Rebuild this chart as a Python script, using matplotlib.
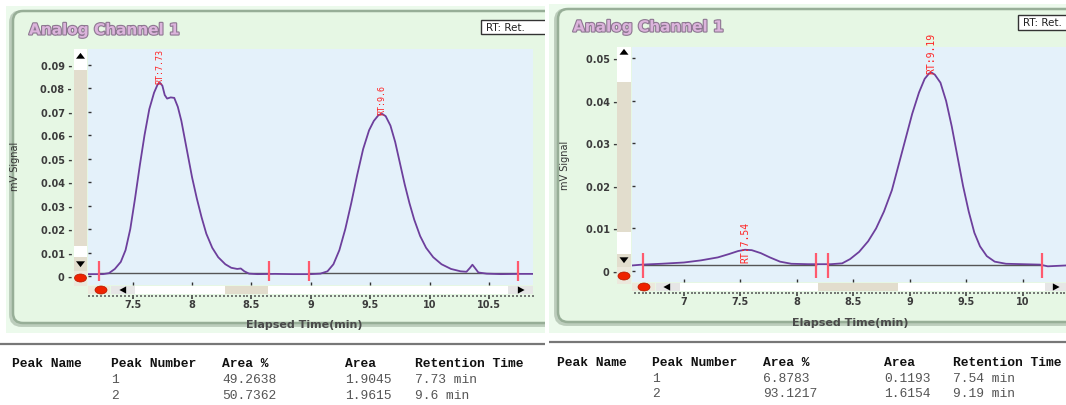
import matplotlib
matplotlib.use("Agg")
import matplotlib.pyplot as plt
import matplotlib.patheffects as pe
from matplotlib.patches import Rectangle, FancyBboxPatch, Ellipse, Polygon
from matplotlib.ticker import FixedLocator, MultipleLocator

W, H = 1066, 406

# ---------------- Run 1 chromatogram (time in min, signal in mV) ----------------
run1_time = [7.12, 7.25, 7.30, 7.35, 7.40, 7.44, 7.48, 7.52, 7.56, 7.60, 7.64, 7.68,
             7.71, 7.73, 7.75, 7.77, 7.79, 7.82, 7.85, 7.88, 7.91, 7.94, 7.97, 8.00,
             8.04, 8.08, 8.12, 8.17, 8.22, 8.28, 8.33, 8.38, 8.41, 8.44, 8.48, 8.55,
             8.70, 8.85, 9.00, 9.08, 9.14, 9.19, 9.24, 9.29, 9.34, 9.39, 9.44, 9.49,
             9.53, 9.57, 9.60, 9.63, 9.67, 9.71, 9.75, 9.79, 9.83, 9.87, 9.92, 9.97,
             10.03, 10.10, 10.18, 10.26, 10.31, 10.34, 10.36, 10.38, 10.41, 10.48,
             10.60, 10.75, 10.87]
run1_signal = [0.0008, 0.0008, 0.0012, 0.0030, 0.0060, 0.0110, 0.0200, 0.0330, 0.0470,
               0.0600, 0.0710, 0.0780, 0.0815, 0.0822, 0.0810, 0.0770, 0.0755, 0.0760,
               0.0758, 0.0720, 0.0660, 0.0580, 0.0500, 0.0420, 0.0330, 0.0250, 0.0180,
               0.0120, 0.0080, 0.0050, 0.0035, 0.0030, 0.0032, 0.0020, 0.0010, 0.0008,
               0.0009, 0.0008, 0.0008, 0.0010, 0.0020, 0.0050, 0.0110, 0.0200, 0.0310,
               0.0430, 0.0540, 0.0620, 0.0660, 0.0685, 0.0690, 0.0680, 0.0640, 0.0570,
               0.0480, 0.0390, 0.0310, 0.0240, 0.0170, 0.0120, 0.0080, 0.0050, 0.0030,
               0.0020, 0.0018, 0.0035, 0.0048, 0.0035, 0.0015, 0.0010, 0.0008, 0.0009,
               0.0009]
run1_baseline = 0.0012
run1_events = [7.216, 8.65, 8.985, 10.74]
run1_rt = [7.73, 9.6]
run1_apex = [0.0822, 0.0690]
run1_yticks = [0, 0.01, 0.02, 0.03, 0.04, 0.05, 0.06, 0.07, 0.08, 0.09]
run1_xticks = [7.5, 8.0, 8.5, 9.0, 9.5, 10.0, 10.5]
run1_peak_number = ["1", "2"]
run1_area_pct = ["49.2638", "50.7362"]
run1_area = ["1.9045", "1.9615"]
run1_ret_time = ["7.73 min", "9.6 min"]

# ---------------- Run 2 chromatogram ----------------
run2_time = [6.54, 6.63, 6.80, 7.00, 7.15, 7.30, 7.40, 7.48, 7.54, 7.60, 7.68, 7.76,
             7.85, 7.95, 8.10, 8.30, 8.40, 8.47, 8.55, 8.63, 8.70, 8.77, 8.84, 8.90,
             8.96, 9.02, 9.08, 9.13, 9.17, 9.19, 9.22, 9.27, 9.32, 9.37, 9.42, 9.47,
             9.52, 9.57, 9.62, 9.68, 9.75, 9.85, 10.00, 10.15, 10.22, 10.30, 10.38]
run2_signal = [0.0013, 0.0015, 0.0017, 0.0020, 0.0025, 0.0032, 0.0040, 0.0047, 0.0050,
               0.0049, 0.0042, 0.0032, 0.0022, 0.0017, 0.0016, 0.0016, 0.0018, 0.0028,
               0.0045, 0.0070, 0.0100, 0.0140, 0.0190, 0.0250, 0.0310, 0.0370, 0.0420,
               0.0452, 0.0465, 0.0467, 0.0462, 0.0443, 0.0400, 0.0340, 0.0270, 0.0200,
               0.0140, 0.0090, 0.0058, 0.0035, 0.0022, 0.0017, 0.0016, 0.0015, 0.0011,
               0.0012, 0.0013]
run2_baseline = 0.0015
run2_events = [6.634, 8.166, 8.277, 10.166]
run2_rt = [7.54, 9.19]
run2_apex = [0.0050, 0.0467]
run2_yticks = [0, 0.01, 0.02, 0.03, 0.04, 0.05]
run2_xticks = [7.0, 7.5, 8.0, 8.5, 9.0, 9.5, 10.0]
run2_peak_number = ["1", "2"]
run2_area_pct = ["6.8783", "93.1217"]
run2_area = ["0.1193", "1.6154"]
run2_ret_time = ["7.54 min", "9.19 min"]

table_columns = ["Peak Name", "Peak Number", "Area %", "Area", "Retention Time"]

# ---------------- styling ----------------
PAGE = "#ecfaec"
FRAME_FILL = "#e6f7e4"
FRAME_EDGE = "#97ae97"
PLOT_BG = "#e4f1fa"
BEIGE = "#e2ddcd"
TRACE = "#6d3f9c"
EVENT = "#ff5a6e"
PX = 0.72  # points per pixel at 100 dpi


def px_rect(x0, y0, x1, y1):
    return [x0 / W, 1 - y1 / H, (x1 - x0) / W, (y1 - y0) / H]


def tri(ax, cx, cy, direction, s=4.5):
    if direction == "up":
        pts = [(cx - s, cy + s * 0.6), (cx + s, cy + s * 0.6), (cx, cy - s * 0.7)]
    elif direction == "down":
        pts = [(cx - s, cy - s * 0.6), (cx + s, cy - s * 0.6), (cx, cy + s * 0.7)]
    elif direction == "left":
        pts = [(cx + s * 0.7, cy - s * 0.8), (cx + s * 0.7, cy + s * 0.8), (cx - s * 0.8, cy)]
    else:
        pts = [(cx - s * 0.7, cy - s * 0.8), (cx - s * 0.7, cy + s * 0.8), (cx + s * 0.8, cy)]
    ax.add_patch(Polygon(pts, closed=True, fc="black", ec="none", zorder=4))


def draw_run(fig, cfg, time, signal, baseline, events, rts, apex, yticks, xticks,
             numbers, area_pct, area, ret_time):
    cx0, cx1 = cfg["clip"]
    bg = fig.add_axes(px_rect(cx0, 0, cx1, H))
    bg.set_xlim(cx0, cx1)
    bg.set_ylim(H, 0)
    bg.axis("off")
    bg.set_zorder(0)

    # page and rounded frame
    px0, py0, px1, py1 = cfg["page"]
    bg.add_patch(Rectangle((px0, py0), px1 - px0, py1 - py0, fc=PAGE, ec="none", zorder=0))
    fx0, fy0, fx1, fy1 = cfg["frame"]
    bg.add_patch(FancyBboxPatch((fx0 - 1.5, fy0 + 1.5), fx1 - fx0, fy1 - fy0,
                                boxstyle="round,pad=0,rounding_size=10",
                                fc="none", ec="#bccdbc", lw=3.5, zorder=1))
    bg.add_patch(FancyBboxPatch((fx0, fy0), fx1 - fx0, fy1 - fy0,
                                boxstyle="round,pad=0,rounding_size=10",
                                fc=FRAME_FILL, ec=FRAME_EDGE, lw=1.8, zorder=1))

    # title and legend box
    tx, ty = cfg["title"]
    bg.text(tx, ty, "Analog Channel 1", fontsize=11, fontweight="bold",
            family="DejaVu Sans", color="#dcb4dc", ha="left", va="center", zorder=5,
            path_effects=[pe.withStroke(linewidth=1.6, foreground="#8d7791")])
    rx, ry, rw, rh = cfg["rtbox"]
    bg.add_patch(Rectangle((rx, ry), rw, rh, fc="white", ec="#333333", lw=1, zorder=4))
    bg.text(rx + 5, ry + rh / 2, "RT: Ret.", fontsize=7.5, family="DejaVu Sans",
            color="#222222", ha="left", va="center", zorder=5, clip_on=True)

    # vertical scroll bar
    sx0, sx1 = cfg["yscroll_x"]
    for (a, b, c) in cfg["yscroll"]:
        bg.add_patch(Rectangle((sx0, a), sx1 - sx0, b - a, fc=c, ec="none", zorder=2))
    tri(bg, (sx0 + sx1) / 2, cfg["yscroll_up"], "up")
    tri(bg, (sx0 + sx1) / 2, cfg["yscroll_down"], "down")
    bg.add_patch(Ellipse(((sx0 + sx1) / 2, cfg["yscroll_dot"]), 12, 8,
                         fc="#ee2200", ec="#b01800", lw=0.5, zorder=4))

    # horizontal scroll bar
    hy0, hy1 = cfg["xscroll_y"]
    for (a, b, c) in cfg["xscroll"]:
        bg.add_patch(Rectangle((a, hy0), b - a, hy1 - hy0, fc=c, ec="none", zorder=2))
    hc = (hy0 + hy1) / 2
    bg.add_patch(Ellipse((cfg["xscroll_dot"], hc), 12, 8, fc="#ee2200", ec="#b01800",
                         lw=0.5, zorder=4))
    tri(bg, cfg["xscroll_left"], hc, "left")
    tri(bg, cfg["xscroll_right"], hc, "right")

    # axis titles
    lx, ly = cfg["xlabel"]
    bg.text(lx, ly, "Elapsed Time(min)", fontsize=8, fontweight="bold",
            family="DejaVu Sans", color="#4a4a4a", ha="center", va="center", zorder=5)
    yx, yy = cfg["ylabel"]
    bg.text(yx, yy, "mV Signal", fontsize=7, rotation=90, family="DejaVu Sans",
            color="#333333", ha="center", va="center", zorder=5)

    # results table
    ly_line, lx0, lx1 = cfg["table_line"]
    bg.plot([lx0, lx1], [ly_line, ly_line], color="#777777", lw=1.6, zorder=3)
    cols = cfg["table_cols"]
    rows_y = cfg["table_rows"]
    for x, name in zip(cols, table_columns):
        bg.text(x, rows_y[0], name, family="Liberation Mono", fontweight="bold",
                fontsize=9.4, color="#111111", ha="left", va="center")
    for i in range(len(numbers)):
        vals = ["", numbers[i], area_pct[i], area[i], ret_time[i]]
        for x, v in zip(cols, vals):
            bg.text(x, rows_y[i + 1], v, family="Liberation Mono", fontsize=9.4,
                    color="#555555", ha="left", va="center")

    # chromatogram plot area
    ax = fig.add_axes(px_rect(*cfg["plot"]))
    ax.set_zorder(1)
    ax.set_facecolor(PLOT_BG)
    for s in ax.spines.values():
        s.set_visible(False)
    ax.set_xlim(*cfg["xlim"])
    ax.set_ylim(*cfg["ylim"])
    for a, b in zip(events[0::2], events[1::2]):
        ax.plot([a, b], [baseline, baseline], color="#555555", lw=1.0, zorder=2)
    ax.plot(time, signal, color=TRACE, lw=1.3, zorder=3)
    ax.vlines(events, cfg["event_span"][0], cfg["event_span"][1], color=EVENT,
              lw=1.6, zorder=4)
    for rt, h, dy in zip(rts, apex, cfg["label_dy"]):
        ax.text(rt, h + dy, f"RT:{rt:g}", rotation=90, ha="center", va="bottom",
                fontsize=cfg["label_size"], family="DejaVu Sans Mono",
                color="#ff2424", zorder=5)

    ax.xaxis.set_major_locator(FixedLocator(xticks))
    ax.tick_params(axis="x", direction="in", length=3 * PX, width=1, color="#333333",
                   labelbottom=False)
    ax.set_yticks(yticks)
    ax.set_yticklabels([("0" if v == 0 else f"{v:.2f}") + " -" for v in yticks],
                       fontsize=7, fontweight="bold", family="DejaVu Sans",
                       color="#3c3c3c")
    ax.tick_params(axis="y", direction="in", length=3 * PX, width=1, color="#333333",
                   pad=cfg["ypad"] * PX)

    # dotted time ruler with labels beneath the scroll bar
    dy0 = cfg["ruler_y"]
    p = cfg["plot"]
    rax = fig.add_axes(px_rect(p[0], dy0 - 1, p[2], dy0))
    rax.set_zorder(1)
    rax.patch.set_visible(False)
    for s in rax.spines.values():
        s.set_visible(False)
    rax.set_xlim(*cfg["xlim"])
    rax.set_yticks([])
    rax.xaxis.set_major_locator(FixedLocator(xticks))
    rax.xaxis.set_minor_locator(MultipleLocator(0.5 / 15))
    rax.tick_params(axis="x", which="major", direction="out", length=3.5 * PX,
                    width=1.1, color="#333333", pad=0.6)
    rax.tick_params(axis="x", which="minor", direction="out", length=1.8 * PX,
                    width=1.1, color="#555555")
    rax.set_xticklabels([f"{v:g}" for v in xticks], fontsize=7, fontweight="bold",
                        family="DejaVu Sans", color="#3c3c3c")
    return ax


fig = plt.figure(figsize=(W / 100, H / 100), dpi=100)
fig.patch.set_facecolor("white")

cfg1 = dict(
    clip=(0, 545), page=(6, 7, 545, 334), frame=(13, 12, 620, 324),
    title=(29, 31), rtbox=(481, 21, 80, 14),
    yscroll_x=(74, 87),
    yscroll=[(50, 71, "white"), (71, 247, BEIGE), (247, 258, "white"),
             (258, 272, BEIGE), (272, 287, "#ece8dc")],
    yscroll_up=57, yscroll_down=265, yscroll_dot=279,
    xscroll_y=(287, 295),
    xscroll=[(88, 110, "#ece8dc"), (111, 135, "#e6e6e6"), (135, 225, "white"),
             (225, 268, BEIGE), (268, 508, "white"), (508, 533, "#e6e6e6")],
    xscroll_dot=101, xscroll_left=123, xscroll_right=521,
    xlabel=(304, 325), ylabel=(15, 166),
    table_line=(345, 0, 545), table_cols=[12, 111, 222, 345, 415],
    table_rows=[364, 380, 396],
    plot=(88, 50, 533, 286), xlim=(7.124, 10.87), ylim=(-0.00383, 0.0966),
    event_span=(-0.0021, 0.0064), label_dy=[0, 0], label_size=6.0,
    ypad=16, ruler_y=296,
)

cfg2 = dict(
    clip=(549, 1066), page=(549, 5, 1066, 334), frame=(558, 10, 1130, 323),
    title=(573, 28), rtbox=(1018, 16, 80, 15),
    yscroll_x=(617, 631),
    yscroll=[(48, 83, "white"), (83, 233, BEIGE), (233, 255, "white"),
             (255, 268, BEIGE), (268, 285, "#ece8dc")],
    yscroll_up=53, yscroll_down=261, yscroll_dot=277,
    xscroll_y=(284, 292),
    xscroll=[(632, 655, "#ece8dc"), (656, 680, "#e6e6e6"), (680, 818, "white"),
             (818, 898, BEIGE), (898, 1045, "white"), (1045, 1066, "#e6e6e6")],
    xscroll_dot=644, xscroll_left=667, xscroll_right=1056,
    xlabel=(850, 323), ylabel=(565, 165),
    table_line=(343, 549, 1066), table_cols=[557, 652, 763, 884, 953],
    table_rows=[363, 379, 394],
    plot=(632, 48, 1066, 283), xlim=(6.540, 10.381), ylim=(-0.00259, 0.0527),
    event_span=(-0.0016, 0.0042), label_dy=[-0.0028, 0], label_size=7.0,
    ypad=15, ruler_y=293,
)

draw_run(fig, cfg1, run1_time, run1_signal, run1_baseline, run1_events, run1_rt,
         run1_apex, run1_yticks, run1_xticks, run1_peak_number, run1_area_pct,
         run1_area, run1_ret_time)
draw_run(fig, cfg2, run2_time, run2_signal, run2_baseline, run2_events, run2_rt,
         run2_apex, run2_yticks, run2_xticks, run2_peak_number, run2_area_pct,
         run2_area, run2_ret_time)

fig.savefig("out.png", dpi=100, facecolor="white")
